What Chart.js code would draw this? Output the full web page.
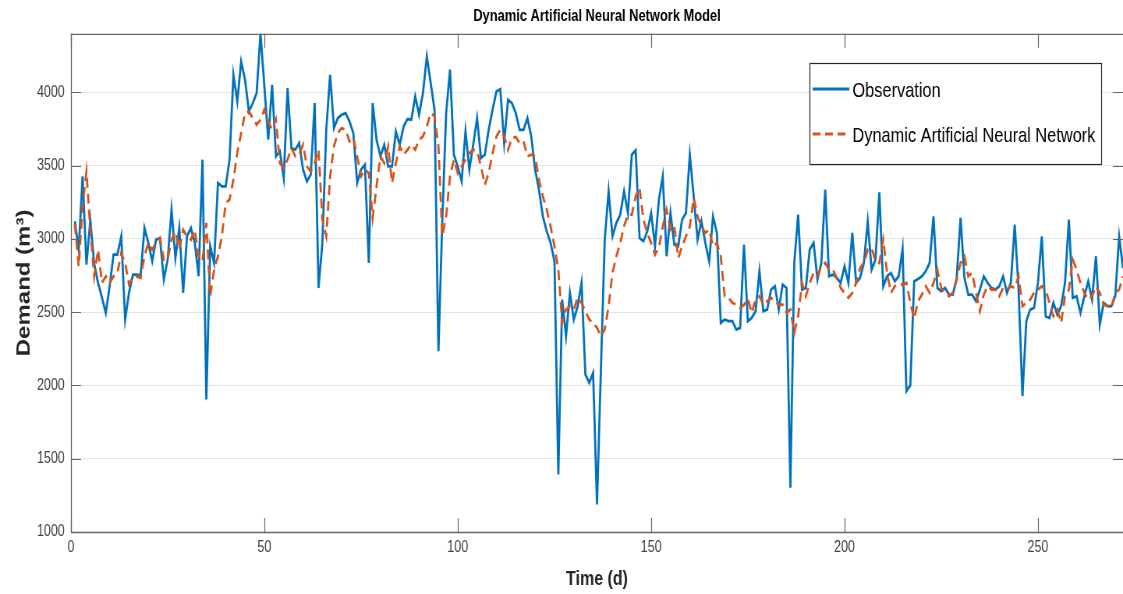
<!DOCTYPE html>
<html>
<head>
<meta charset="utf-8">
<title>Dynamic Artificial Neural Network Model</title>
<script src="https://cdn.jsdelivr.net/npm/chart.js@4.4.1/dist/chart.umd.min.js"></script>
<style>
  html, body { margin: 0; padding: 0; background: #fff; overflow: hidden; }
  #wrap { width: 1123px; height: 594px; }
</style>
</head>
<body>
<!-- the source figure is squeezed sideways, so draw wide and squeeze the canvas -->
<div id="wrap"><canvas id="demandChart" width="1440" height="594" style="width:1123px;height:594px;display:block"></canvas></div>
<script>
// time axis: day 1 .. 272
const days = Array.from({ length: 272 }, (_, i) => i + 1);

const observation = [
	3120, 2927, 3427, 2825, 3127, 2830, 2700, 2600, 2495, 2677,
	2893, 2893, 3018, 2450, 2632, 2757, 2757, 2750, 3075, 2973,
	2848, 2995, 3006, 2723, 2859, 3200, 2870, 3075, 2632, 3018,
	3075, 2973, 2745, 3541, 1904, 2950, 2836, 3382, 3359, 3359,
	3541, 4120, 3939, 4211, 4086, 3870, 3927, 3995, 4405, 4041,
	3677, 4052, 3564, 3598, 3416, 4030, 3620, 3609, 3655, 3473,
	3393, 3439, 3927, 2666, 2973, 3745, 4120, 3757, 3825, 3848,
	3859, 3802, 3723, 3382, 3473, 3507, 2836, 3927, 3677, 3564,
	3643, 3495, 3495, 3734, 3643, 3768, 3818, 3814, 3973, 3848,
	3995, 4245, 4064, 3882, 2234, 3120, 3859, 4155, 3575, 3495,
	3393, 3734, 3473, 3643, 3825, 3552, 3575, 3745, 3882, 4007,
	4023, 3655, 3950, 3927, 3859, 3745, 3745, 3825, 3700, 3473,
	3336, 3154, 3052, 2973, 2848, 1393, 2586, 2336, 2632, 2450,
	2540, 2700, 2075, 2018, 2086, 1188, 2100, 2995, 3325, 3018,
	3109, 3166, 3325, 3177, 3575, 3605, 3006, 2984, 3052, 3177,
	2950, 3268, 3427, 2882, 3177, 2961, 2950, 3132, 3177, 3575,
	3291, 2995, 3120, 2973, 2848, 3154, 3041, 2427, 2450, 2439,
	2439, 2382, 2393, 2961, 2439, 2461, 2507, 2780, 2507, 2518,
	2654, 2677, 2518, 2689, 2666, 1302, 2836, 3166, 2654, 2666,
	2927, 2973, 2723, 2836, 3336, 2745, 2757, 2734, 2700, 2813,
	2700, 3041, 2700, 2734, 2836, 3120, 2790, 2859, 3318, 2677,
	2745, 2768, 2711, 2745, 2932, 1961, 2000, 2711, 2727, 2745,
	2780, 2836, 3154, 2666, 2643, 2666, 2620, 2620, 2734, 3143,
	2734, 2620, 2620, 2575, 2654, 2745, 2700, 2666, 2654, 2677,
	2745, 2632, 2700, 3098, 2654, 1927, 2439, 2518, 2530, 2700,
	3018, 2473, 2461, 2564, 2484, 2541, 2700, 3132, 2598, 2609,
	2495, 2609, 2711, 2586, 2882, 2416, 2564, 2541, 2541, 2609,
	3018, 2800
];

// dynamic ANN prediction (m3)
const danPrediction = [
	3100, 2813, 3223, 3460, 3063, 2745, 2927, 2700, 2745, 2700,
	2745, 2768, 2904, 2836, 2690, 2734, 2745, 2734, 2882, 2973,
	2927, 2973, 3006, 2859, 2859, 2995, 3052, 2927, 3063, 3018,
	2995, 3063, 2882, 2848, 3109, 2609, 2790, 2882, 3018, 3245,
	3268, 3405, 3590, 3723, 3859, 3870, 3825, 3780, 3814, 3882,
	3802, 3745, 3814, 3518, 3484, 3541, 3620, 3564, 3575, 3643,
	3495, 3461, 3518, 3609, 3132, 3018, 3427, 3632, 3723, 3757,
	3745, 3666, 3689, 3564, 3427, 3473, 3450, 3143, 3359, 3564,
	3518, 3632, 3382, 3518, 3632, 3575, 3609, 3643, 3609, 3677,
	3700, 3768, 3859, 3836, 3632, 3018, 3154, 3427, 3541, 3450,
	3495, 3541, 3586, 3609, 3598, 3495, 3370, 3450, 3586, 3700,
	3745, 3700, 3609, 3689, 3695, 3655, 3666, 3564, 3575, 3564,
	3405, 3291, 3200, 3086, 2950, 2790, 2427, 2518, 2541, 2518,
	2600, 2564, 2507, 2450, 2427, 2393, 2336, 2382, 2541, 2768,
	2882, 2973, 3086, 3166, 3166, 3291, 3348, 3132, 3041, 2973,
	2893, 2939, 3086, 3200, 3063, 3086, 2870, 2950, 3018, 3086,
	3280, 3154, 3086, 3041, 3063, 2950, 2973, 2882, 2609, 2598,
	2564, 2552, 2530, 2550, 2592, 2495, 2586, 2609, 2552, 2575,
	2598, 2575, 2552, 2552, 2495, 2518, 2359, 2473, 2700, 2609,
	2700, 2768, 2745, 2813, 2836, 2790, 2790, 2734, 2666, 2632,
	2598, 2632, 2700, 2802, 2836, 2927, 2939, 2848, 2836, 2995,
	2768, 2632, 2677, 2689, 2689, 2700, 2564, 2455, 2575, 2620,
	2677, 2632, 2700, 2790, 2666, 2632, 2609, 2632, 2723, 2836,
	2882, 2745, 2768, 2632, 2507, 2620, 2677, 2654, 2654, 2609,
	2666, 2654, 2677, 2666, 2745, 2541, 2564, 2586, 2632, 2654,
	2677, 2654, 2564, 2473, 2518, 2427, 2609, 2654, 2859, 2790,
	2700, 2632, 2586, 2609, 2677, 2632, 2552, 2541, 2530, 2632,
	2654, 2745
];

const xTicks = [0, 50, 100, 150, 200, 250];
const yTicks = [1000, 1500, 2000, 2500, 3000, 3500, 4000];

const seriesNames = ["Observation", "Dynamic Artificial Neural Network"];

const SANS = "'Liberation Sans', Arial, Helvetica, sans-serif";

// box round the axes with inward ticks, matlab style
const axesFrame = {
	id: "axesFrame",
	afterDatasetsDraw(chart) {
		const { ctx, chartArea: a, scales } = chart;
		ctx.save();
		ctx.strokeStyle = "#666666";
		ctx.lineWidth = 1.3;
		ctx.beginPath();
		ctx.moveTo(a.right + 2, a.top + 0.5);
		ctx.lineTo(a.left + 0.5, a.top + 0.5);
		ctx.lineTo(a.left + 0.5, a.bottom + 0.5);
		ctx.lineTo(a.right + 2, a.bottom + 0.5);
		ctx.stroke();

		ctx.lineWidth = 1.2;
		ctx.beginPath();
		xTicks.forEach((v) => {
			const px = Math.round(scales.x.getPixelForValue(v)) + 0.5;
			ctx.moveTo(px, a.bottom);
			ctx.lineTo(px, a.bottom - 14);
			ctx.moveTo(px, a.top);
			ctx.lineTo(px, a.top + 14);
		});
		yTicks.forEach((v) => {
			const py = Math.round(scales.y.getPixelForValue(v)) + 0.5;
			ctx.moveTo(a.left, py);
			ctx.lineTo(a.left + 13, py);
			ctx.moveTo(a.right, py);
			ctx.lineTo(a.right - 13, py);
		});
		ctx.stroke();
		ctx.restore();
	},
	afterDraw(chart) {
		// legend box in the upper right of the axes
		const { ctx, chartArea: a } = chart;
		const ds = chart.data.datasets;
		const byName = (n) => ds.find((d) => d.label === n);
		const bx = Math.round(a.right - 402);
		const by = Math.round(a.top + 29);
		const bw = 374;
		const bh = 101;
		ctx.save();
		ctx.fillStyle = "#ffffff";
		ctx.fillRect(bx, by, bw, bh);
		ctx.strokeStyle = "#262626";
		ctx.lineWidth = 1.2;
		ctx.strokeRect(bx + 0.5, by + 0.5, bw, bh);

		ctx.font = "21px " + SANS;
		ctx.textBaseline = "middle";
		ctx.textAlign = "left";
		seriesNames.forEach((name, i) => {
			const d = byName(name);
			const ly = by + 26 + i * 45;
			ctx.strokeStyle = d.borderColor;
			ctx.lineWidth = d.borderWidth;
			ctx.setLineDash(d.borderDash || []);
			ctx.beginPath();
			ctx.moveTo(bx + 4, ly);
			ctx.lineTo(bx + 51, ly);
			ctx.stroke();
			ctx.setLineDash([]);
			ctx.fillStyle = "#000000";
			ctx.fillText(name, bx + 55, ly + 2);
		});
		ctx.restore();
	},
};

const ctx = document.getElementById("demandChart");

new Chart(ctx, {
	type: "line",
	data: {
		datasets: [
			{
				label: seriesNames[1],
				data: danPrediction.map((v, i) => ({ x: days[i], y: v })),
				borderColor: "#D95319",
				borderWidth: 2.8,
				borderDash: [10, 6],
				pointRadius: 0,
				tension: 0,
				fill: false,
				order: 0,
			},
			{
				label: seriesNames[0],
				data: observation.map((v, i) => ({ x: days[i], y: v })),
				borderColor: "#0072BD",
				borderWidth: 2.8,
				pointRadius: 0,
				tension: 0,
				fill: false,
				order: 1,
			},
		],
	},
	options: {
		responsive: false,
		animation: false,
		layout: { padding: 0 },
		plugins: {
			legend: { display: false },
			tooltip: { enabled: false },
			title: {
				display: true,
				fullSize: false, // centre over the axes, not the whole canvas
				text: "Dynamic Artificial Neural Network Model",
				color: "#000000",
				font: { family: SANS, size: 16.5, weight: "bold" },
				padding: { top: 7, bottom: 7 },
			},
		},
		scales: {
			x: {
				type: "linear",
				min: 0,
				max: 272,
				afterBuildTicks: (scale) => {
					scale.ticks = xTicks.map((v) => ({ value: v }));
				},
				afterFit: (scale) => {
					scale.height = 62;
					scale.paddingLeft = 0;
					scale.paddingRight = 0;
				},
				grid: { display: false, drawTicks: false },
				border: { display: false },
				ticks: {
					color: "#404040",
					font: { family: SANS, size: 16 },
					padding: 6,
					maxRotation: 0,
					callback: (v) => String(v),
				},
				title: {
					display: true,
					text: "Time (d)",
					color: "#262626",
					font: { family: SANS, size: 20.5, weight: "bold" },
					padding: { bottom: 2 },
				},
			},
			y: {
				min: 1000,
				max: 4400,
				afterBuildTicks: (scale) => {
					scale.ticks = yTicks.map((v) => ({ value: v }));
				},
				afterFit: (scale) => {
					scale.width = 91;
				},
				grid: { color: "#e3e3e3", lineWidth: 1, drawTicks: false },
				border: { display: false },
				ticks: {
					color: "#404040",
					font: { family: SANS, size: 16 },
					padding: 8,
					callback: (v) => String(v),
				},
				title: {
					display: true,
					text: "Demand (m\u00B3)",
					color: "#262626",
					font: { family: SANS, size: 24, weight: "bold" },
					padding: { top: 17 },
				},
			},
		},
	},
	plugins: [axesFrame],
});
</script>
</body>
</html>
